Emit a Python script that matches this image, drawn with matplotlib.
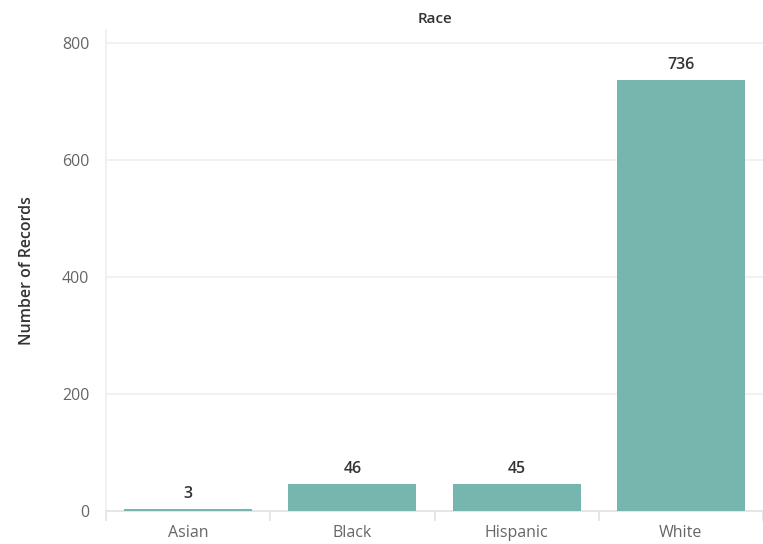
import matplotlib.pyplot as plt
import numpy as np

races  = ["Asian", "Black", "Hispanic", "White"]
counts = [3, 46, 45, 736]
yticks = [0, 200, 400, 600, 800]

barColor  = "#77b5af"
gridColor = "#f0f0f0"
tickColor = "#666666"

plt.rcParams['font.family'] = ['Open Sans', 'DejaVu Sans']

fig = plt.figure(figsize=(7.63, 5.44), dpi=100)
ax = fig.add_axes([0.139, 0.061, 0.861, 0.884])

x = np.arange(len(races))
ax.bar(x, counts, width=0.78, color=barColor, zorder=3)

for xi, c in zip(x, counts):
    ax.text(xi, c + 12, str(c), ha="center", va="bottom", fontsize=11.5,
            color="#333333", fontweight="semibold")

ax.set_xlim(-0.5, len(races) - 0.5)
ax.set_ylim(0, 822)
ax.set_yticks(yticks)
ax.set_xticks(x)
ax.set_xticklabels(races)
ax.tick_params(axis="both", length=0, colors=tickColor, labelsize=11.5)
ax.tick_params(axis="y", pad=12)
ax.tick_params(axis="x", pad=10)

ax.grid(axis="y", color=gridColor, linewidth=1.3, zorder=0)
for s in ["top", "right"]:
    ax.spines[s].set_visible(False)
ax.spines["left"].set_color(gridColor)
ax.spines["left"].set_linewidth(1.3)
ax.spines["bottom"].set_color("#e4e4e4")
ax.spines["bottom"].set_linewidth(1.3)

# band separators below the axis
for b in np.arange(len(races) + 1) - 0.5:
    ax.plot([b, b], [0, -16], color="#e4e4e4", linewidth=1.3, clip_on=False)

ax.set_title("Race", fontsize=11, color="#333333", fontweight="semibold", pad=5)
fig.text(0.035, 0.503, "Number of Records", rotation=90, ha="center", va="center",
         fontsize=11.5, color="#333333", fontweight="semibold")

plt.savefig("out.png", dpi=100)
